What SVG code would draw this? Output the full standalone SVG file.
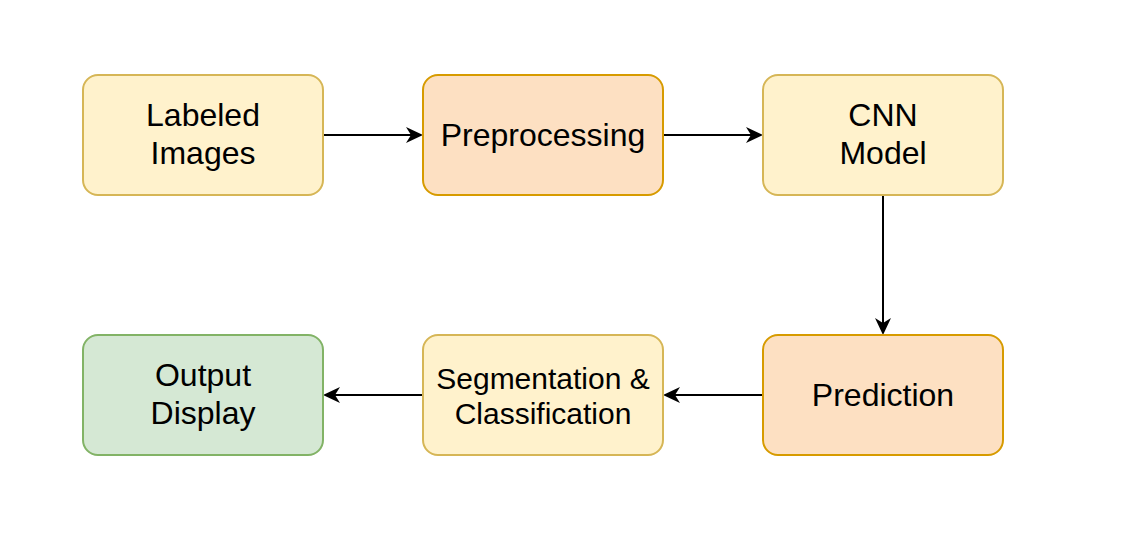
<svg xmlns="http://www.w3.org/2000/svg" width="1130" height="544" viewBox="0 0 1130 544">
<style>
  .box { stroke-width: 2; }
  .yellow { fill: #fff2cc; stroke: #d6b656; }
  .orange { fill: #fde0c2; stroke: #d79b00; }
  .green { fill: #d5e8d4; stroke: #82b366; }
  .lbl { font-family: "Liberation Sans", Arial, Helvetica, sans-serif; font-size: 32px; fill: #000; text-anchor: middle; }
  .sm { font-size: 30px; }
  .edge { fill: none; stroke: #000; stroke-width: 2; marker-end: url(#arrow); }
</style>
<defs>
  <marker id="arrow" markerUnits="userSpaceOnUse" viewBox="-6 -9 19 18" markerWidth="19" markerHeight="18" refX="0" refY="0" orient="auto">
    <path d="M12,0 L-5,-8 L0,0 L-5,8 Z" fill="#000"/>
  </marker>
</defs>
<rect width="1130" height="544" fill="#fff"/>
<g id="connectors">
  <path class="edge" d="M323,135 H411"/>
  <path class="edge" d="M663,135 H751"/>
  <path class="edge" d="M883,195 V323"/>
  <path class="edge" d="M763,395 H675"/>
  <path class="edge" d="M423,395 H335"/>
</g>
<g id="labeled-images">
  <rect class="box yellow" x="83" y="75" width="240" height="120" rx="15"/>
  <text class="lbl" x="203" y="126">Labeled</text>
  <text class="lbl" x="203" y="164">Images</text>
</g>
<g id="preprocessing">
  <rect class="box orange" x="423" y="75" width="240" height="120" rx="15"/>
  <text class="lbl" x="543" y="146">Preprocessing</text>
</g>
<g id="cnn-model">
  <rect class="box yellow" x="763" y="75" width="240" height="120" rx="15"/>
  <text class="lbl" x="883" y="126">CNN</text>
  <text class="lbl" x="883" y="164">Model</text>
</g>
<g id="prediction">
  <rect class="box orange" x="763" y="335" width="240" height="120" rx="15"/>
  <text class="lbl" x="883" y="406">Prediction</text>
</g>
<g id="segmentation-classification">
  <rect class="box yellow" x="423" y="335" width="240" height="120" rx="15"/>
  <text class="lbl sm" x="543" y="388.5">Segmentation &amp;</text>
  <text class="lbl sm" x="543" y="423.5">Classification</text>
</g>
<g id="output-display">
  <rect class="box green" x="83" y="335" width="240" height="120" rx="15"/>
  <text class="lbl" x="203" y="386">Output</text>
  <text class="lbl" x="203" y="424">Display</text>
</g>
</svg>
